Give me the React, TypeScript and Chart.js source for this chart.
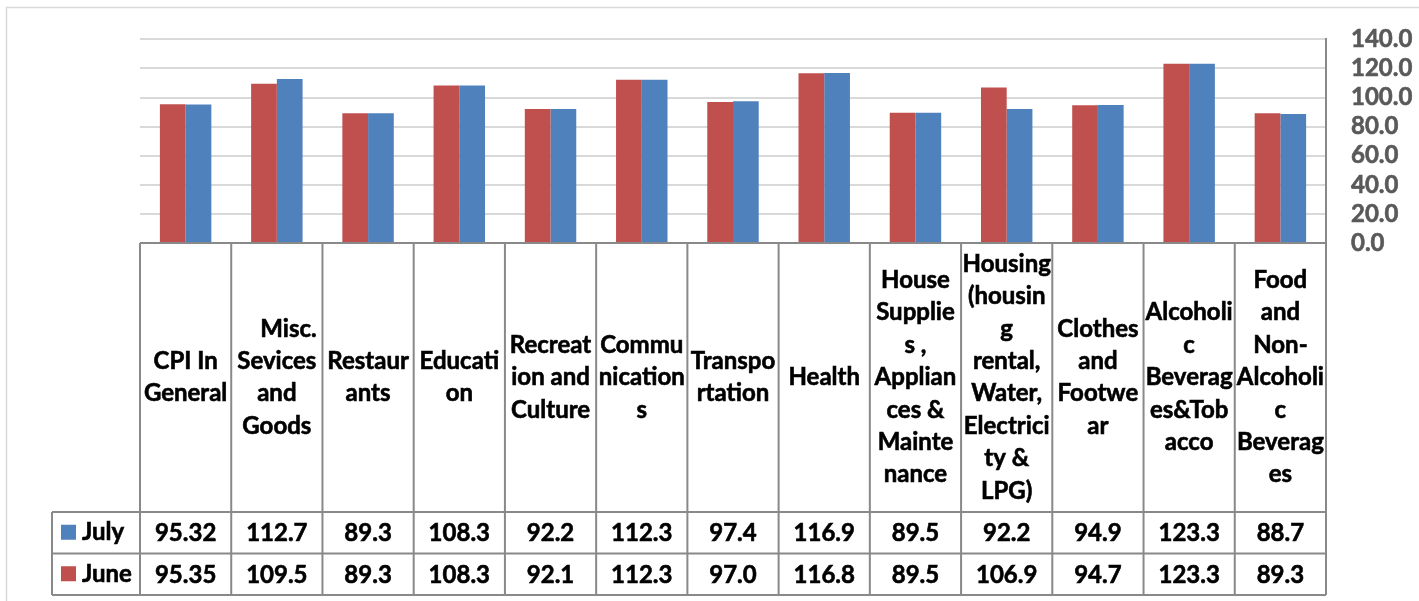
import React, { useEffect, useRef } from "react";
import { Chart, registerables } from "chart.js";

Chart.register(...registerables);

const categoryLines: string[][] = [
  ["CPI In", "General"],
  ["    Misc.", "Sevices", "and", "Goods"],
  ["Restaur", "ants"],
  ["Educati", "on"],
  ["Recreat", "ion and", "Culture"],
  ["Commu", "nication", "s"],
  ["Transpo", "rtation"],
  ["Health"],
  ["House", "Supplie", "s ,", "Applian", "ces &", "Mainte", "nance"],
  ["Housing", "(housin", "g", "rental,", "Water,", "Electrici", "ty &", "LPG)"],
  ["Clothes", "and", "Footwe", "ar"],
  ["Alcoholi", "c", "Beverag", "es&Tob", "acco"],
  ["Food", "and", "Non-", "Alcoholi", "c", "Beverag", "es"],
];
const categories = categoryLines.map((l) => l.map((s) => s.trim()).join(" "));

const juneValues = [95.35, 109.5, 89.3, 108.3, 92.1, 112.3, 97.0, 116.8, 89.5, 106.9, 94.7, 123.3, 89.3];
const julyValues = [95.32, 112.7, 89.3, 108.3, 92.2, 112.3, 97.4, 116.9, 89.5, 92.2, 94.9, 123.3, 88.7];

const seriesNames = ["June", "July"];
const seriesColors = ["#C0504D", "#4F81BD"];

const yMin = 0;
const yMax = 140;
const yStep = 20;

const FONT = "Lato, 'Open Sans', sans-serif";
const SIZE = 24;
const STROKE = 0.6;

function fmt(v: number): string {
  return Math.abs(Math.round(v * 10) - v * 10) < 1e-9 ? v.toFixed(1) : v.toFixed(2);
}

function boldText(ctx: CanvasRenderingContext2D, s: string, x: number, y: number) {
  ctx.fillText(s, x, y);
  ctx.strokeText(s, x, y);
}

const tablePlugin = {
  id: "dataTable",
  afterDraw(chart: any) {
    const ctx: CanvasRenderingContext2D = chart.ctx;
    const area = chart.chartArea;
    const xs = chart.scales.x;
    const n = categories.length;
    const colW = (area.right - area.left) / n;
    const top = area.bottom;
    const headerH = 269;
    const rowH = 41.5;
    const r1 = top + headerH;
    const r2 = r1 + rowH;
    const r3 = r2 + rowH;
    const legendLeft = 52;

    ctx.save();
    ctx.strokeStyle = "#D9D9D9";
    ctx.lineWidth = 1.5;
    ctx.beginPath();
    ctx.moveTo(6.5, chart.height + 2);
    ctx.lineTo(6.5, 7.5);
    ctx.lineTo(chart.width + 2, 7.5);
    ctx.stroke();

    ctx.strokeStyle = "#898989";
    ctx.lineWidth = 2;
    ctx.beginPath();
    ctx.moveTo(area.left, top);
    ctx.lineTo(area.right, top);
    for (const y of [r1, r2, r3]) {
      ctx.moveTo(legendLeft, y);
      ctx.lineTo(area.right, y);
    }
    for (let i = 0; i <= n; i++) {
      const x = area.left + i * colW;
      ctx.moveTo(x, top);
      ctx.lineTo(x, r3);
    }
    ctx.moveTo(legendLeft, r1);
    ctx.lineTo(legendLeft, r3);
    ctx.stroke();

    ctx.fillStyle = "#000000";
    ctx.strokeStyle = "#000000";
    ctx.lineWidth = STROKE;
    ctx.font = `bold ${SIZE}px ${FONT}`;
    ctx.textAlign = "center";
    ctx.textBaseline = "middle";
    const lh = 32.4;
    const hc = top + headerH / 2;
    categoryLines.forEach((lines, i) => {
      const cx = xs.getPixelForValue(i);
      const y0 = hc - ((lines.length - 1) * lh) / 2;
      lines.forEach((s, j) => boldText(ctx, s, cx, y0 + j * lh));
    });

    const rows = [
      { name: seriesNames[1], color: seriesColors[1], values: julyValues, y: r1 + rowH / 2 },
      { name: seriesNames[0], color: seriesColors[0], values: juneValues, y: r2 + rowH / 2 },
    ];
    rows.forEach((row) => {
      ctx.fillStyle = row.color;
      ctx.fillRect(61, row.y - 8, 15, 15);
      ctx.fillStyle = "#000000";
      ctx.textAlign = "left";
      boldText(ctx, row.name, 82, row.y);
      ctx.textAlign = "center";
      row.values.forEach((v, i) => boldText(ctx, fmt(v), xs.getPixelForValue(i), row.y + 1));
    });
    ctx.restore();
  },
};

export default function App() {
  const ref = useRef<HTMLCanvasElement | null>(null);
  useEffect(() => {
    if (!ref.current) return;
    const chart = new Chart(ref.current, {
      type: "bar",
      data: {
        labels: categories,
        datasets: [
          { label: seriesNames[0], data: juneValues, backgroundColor: seriesColors[0] },
          { label: seriesNames[1], data: julyValues, backgroundColor: seriesColors[1] },
        ],
      },
      options: {
        responsive: false,
        animation: false,
        devicePixelRatio: 1,
        layout: { padding: { left: 140, top: 38, right: 0, bottom: 358 } },
        datasets: { bar: { categoryPercentage: 0.564, barPercentage: 1 } },
        plugins: { legend: { display: false }, tooltip: { enabled: false } },
        scales: {
          x: { display: false },
          y: {
            position: "right",
            min: yMin,
            max: yMax,
            ticks: {
              stepSize: yStep,
              autoSkip: false,
              padding: 25,
              color: "#595959",
              textStrokeColor: "#595959",
              textStrokeWidth: STROKE,
              font: { family: FONT, size: SIZE, weight: "bold" },
              callback: (v: any) => Number(v).toFixed(1),
            },
            grid: { color: "#D9D9D9", lineWidth: 2, drawTicks: false },
            border: { display: true, color: "#898989", width: 2 },
            afterFit: (s: any) => {
              s.width = 93;
            },
          },
        },
      },
      plugins: [tablePlugin],
    });
    return () => chart.destroy();
  }, []);
  return (
    <div style={{ position: "fixed", left: 0, top: 0, width: 1419, height: 601, background: "#fff" }}>
      <canvas ref={ref} width={1419} height={601} style={{ display: "block" }} />
    </div>
  );
}
